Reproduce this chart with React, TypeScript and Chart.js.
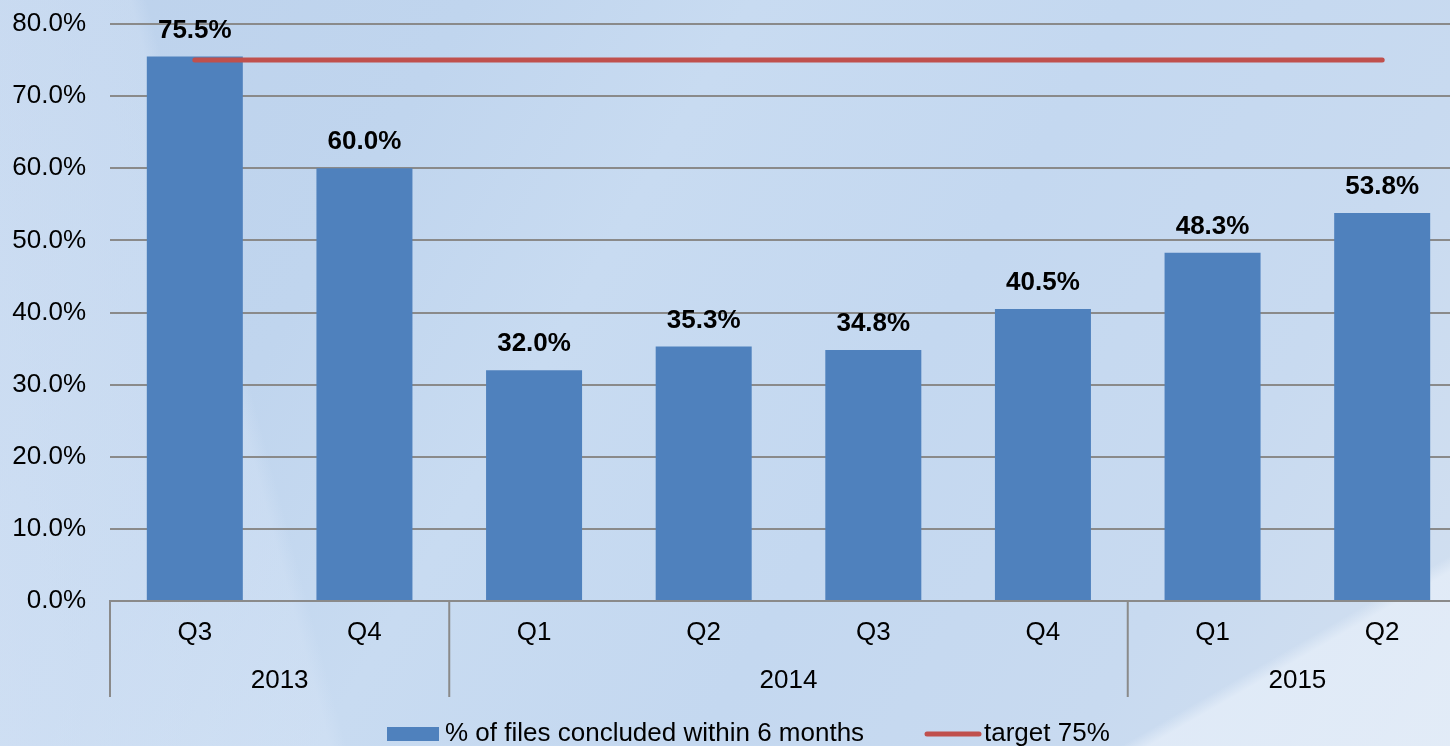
import React, { useEffect, useRef } from "react";
import { Chart, registerables } from "chart.js";

Chart.register(...registerables);

const quarters = ["Q3", "Q4", "Q1", "Q2", "Q3", "Q4", "Q1", "Q2"];
const yearLabels = ["2013", "2014", "2015"];
const yearSpans = [2, 4, 2];
const filesConcluded = [75.5, 60.0, 32.0, 35.3, 34.8, 40.5, 48.3, 53.8];
const target = [75, 75, 75, 75, 75, 75, 75, 75];
const yTicks = [0, 10, 20, 30, 40, 50, 60, 70, 80];

const seriesNames = ["% of files concluded within 6 months", "target 75%"];
const BAR_COLOR = "#4F81BD";
const LINE_COLOR = "#C0504D";
const GRID_COLOR = "#8a8a8a";
const FONT = "'Liberation Sans', Arial, sans-serif";

const extrasPlugin = {
  id: "extras",
  afterDatasetsDraw(chart: any) {
    const ctx = chart.ctx;
    const xs = chart.scales.x;
    const area = chart.chartArea;
    const catW = xs.width / quarters.length;
    ctx.save();
    // data labels
    const meta = chart.getDatasetMeta(0);
    ctx.font = `bold 26px ${FONT}`;
    ctx.fillStyle = "#000";
    ctx.textAlign = "center";
    ctx.textBaseline = "middle";
    meta.data.forEach((bar: any, i: number) => {
      ctx.fillText(filesConcluded[i].toFixed(1) + "%", bar.x, bar.y - 26);
    });
    // quarter labels
    ctx.font = `26px ${FONT}`;
    quarters.forEach((q, i) => {
      ctx.fillText(q, xs.getPixelForValue(i), area.bottom + 32);
    });
    // separators and year labels
    ctx.strokeStyle = GRID_COLOR;
    ctx.lineWidth = 2;
    let idx = 0;
    yearLabels.forEach((y, g) => {
      const left = xs.getPixelForValue(idx) - catW / 2;
      const right = xs.getPixelForValue(idx + yearSpans[g] - 1) + catW / 2;
      ctx.beginPath();
      ctx.moveTo(left, area.bottom);
      ctx.lineTo(left, area.bottom + 96);
      ctx.stroke();
      ctx.fillText(y, (left + right) / 2, area.bottom + 80);
      idx += yearSpans[g];
    });
    const lastRight = xs.getPixelForValue(quarters.length - 1) + catW / 2;
    ctx.beginPath();
    ctx.moveTo(lastRight, area.bottom);
    ctx.lineTo(lastRight, area.bottom + 96);
    ctx.stroke();
    // legend
    const ly = area.bottom + 133;
    let lx = 387;
    ctx.fillStyle = BAR_COLOR;
    ctx.fillRect(lx, ly - 7, 52, 14);
    lx += 58;
    ctx.fillStyle = "#000";
    ctx.textAlign = "left";
    ctx.fillText(seriesNames[0], lx, ly);
    lx = 927;
    ctx.strokeStyle = LINE_COLOR;
    ctx.lineWidth = 5;
    ctx.lineCap = "round";
    ctx.beginPath();
    ctx.moveTo(lx, ly);
    ctx.lineTo(lx + 52, ly);
    ctx.stroke();
    ctx.fillText(seriesNames[1], lx + 57, ly);
    ctx.restore();
  },
};

export default function App() {
  const ref = useRef<HTMLCanvasElement | null>(null);
  useEffect(() => {
    document.body.style.margin = "0";
    const chart = new Chart(ref.current as HTMLCanvasElement, {
      type: "bar",
      data: {
        labels: quarters,
        datasets: [
          {
            type: "bar",
            label: seriesNames[0],
            data: filesConcluded,
            backgroundColor: BAR_COLOR,
            barPercentage: 1,
            categoryPercentage: 0.566,
            order: 2,
          },
          {
            type: "line",
            label: seriesNames[1],
            data: target,
            borderColor: LINE_COLOR,
            borderWidth: 5,
            borderCapStyle: "round",
            pointRadius: 0,
            fill: false,
            order: 1,
          } as any,
        ],
      },
      options: {
        responsive: false,
        animation: false,
        layout: { padding: { top: 24, left: 0, right: 0, bottom: 0 } },
        plugins: { legend: { display: false }, tooltip: { enabled: false } },
        scales: {
          x: {
            offset: true,
            grid: { display: false },
            border: { display: true, color: GRID_COLOR, width: 2 },
            ticks: { display: false },
            afterFit: (s: any) => {
              s.height = 145;
              s.paddingLeft = 0;
              s.paddingRight = 0;
            },
          },
          y: {
            min: 0,
            max: 80,
            afterBuildTicks: (s: any) => {
              s.ticks = yTicks.map((v) => ({ value: v }));
            },
            afterFit: (s: any) => {
              s.width = 110;
              s.paddingTop = 0;
              s.paddingBottom = 0;
            },
            grid: { color: GRID_COLOR, lineWidth: 2, drawTicks: false },
            border: { display: false },
            ticks: {
              padding: 24,
              color: "#000",
              font: { family: FONT, size: 26 },
              callback: (v: any) => Number(v).toFixed(1) + "%",
            },
          },
        },
      },
      plugins: [extrasPlugin],
    });
    return () => chart.destroy();
  }, []);

  return (
    <div
      style={{
        position: "absolute",
        left: 0,
        top: 0,
        width: 1450,
        height: 746,
        overflow: "hidden",
        background:
          "linear-gradient(150deg, rgba(255,255,255,0) 0%, rgba(255,255,255,0) 88%, rgba(232,240,250,0.7) 89%, rgba(232,240,250,0.7) 100%), linear-gradient(75deg, rgba(220,232,248,0.5) 0%, rgba(220,232,248,0.3) 20%, rgba(255,255,255,0) 21%), linear-gradient(120deg, #bdd2ec 0%, #c0d5ee 25%, #c8dbf1 40%, #c4d8f0 60%, #c8daf0 80%, #d3e0f0 100%)",
      }}
    >
      <canvas ref={ref} width={1467} height={746} style={{ display: "block" }} />
    </div>
  );
}
